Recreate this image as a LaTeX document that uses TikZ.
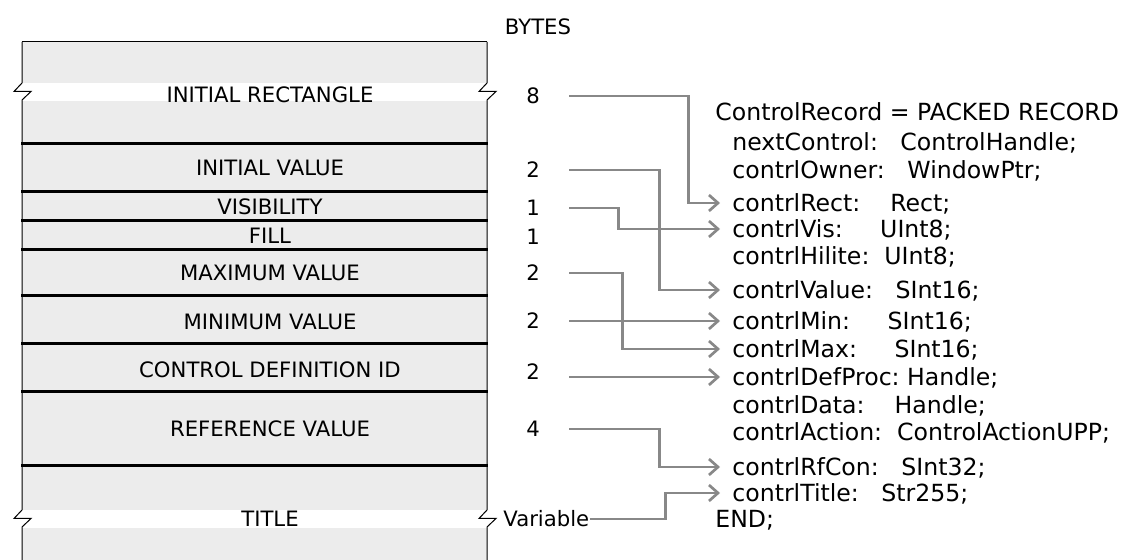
\documentclass[tikz,border=0pt]{standalone}
\usepackage{fontspec}
\setmainfont{DejaVu Sans}
\usetikzlibrary{arrows.meta}
\tikzset{>={Straight Barb[length=4.5pt,width=8pt]}}
\definecolor{linkgray}{HTML}{888888}
\definecolor{boxgray}{HTML}{ECECEC}

\begin{document}
\begin{tikzpicture}[x=0.5pt,y=-0.5pt,
  every node/.style={font=\fontsize{10.6pt}{12.5pt}\selectfont, inner sep=0pt,
    text height=7.7pt, text depth=0pt},
  bytes/.style={minimum width=36pt},
  decl/.style={anchor=west, inner xsep=6pt, font=\fontsize{11.8pt}{14pt}\selectfont,
    text height=8.6pt},
  link/.style={->, draw=linkgray, line width=1.35pt},
  sep/.style={line width=1.5pt},
  edge/.style={line width=0.5pt}]

  \newcommand\XLAB{270}
  \newcommand\XNUM{533}
  \newcommand\XDECL{720}

  \useasboundingbox (0,0) rectangle (1129,560);

  % record layout
  \fill[boxgray] (22,42) rectangle (487,560);
  \fill[white] (22,83) rectangle (487,101);
  \fill[white] (22,510) rectangle (487,528);
  \foreach \y in {144,192,221,250,296,344,392,466}
    \draw[sep] (21,\y) -- (488,\y);
  \foreach \x in {22,487}
    \draw[edge] (\x,560) -- (\x,527) -- ++(9,-8.5) -- ++(-17,0) -- ++(8,-8.5)
      -- (\x,100) -- ++(9,-8.5) -- ++(-17,0) -- ++(8,-8.5) -- (\x,42);
  \draw[edge] (22,42) -- (487,42);

  \node (initrect) at (\XLAB,95) {INITIAL RECTANGLE};
  \node (initval) at (\XLAB,168) {INITIAL VALUE};
  \node (visib) at (\XLAB,207) {VISIBILITY};
  \node (fill) at (\XLAB,236) {FILL};
  \node (maxval) at (\XLAB,273) {MAXIMUM VALUE};
  \node (minval) at (\XLAB,322) {MINIMUM VALUE};
  \node (cdefid) at (\XLAB,370) {CONTROL DEFINITION ID};
  \node (refval) at (\XLAB,429) {REFERENCE VALUE};
  \node (title) at (\XLAB,519) {TITLE};

  % byte counts
  \node (hdr) at (538,27) {BYTES};
  \node[bytes] (b8) at (\XNUM,96) {8};
  \node[bytes] (biv) at (\XNUM,170) {2};
  \node[bytes] (bvis) at (\XNUM,208) {1};
  \node[bytes] (bfill) at (\XNUM,237) {1};
  \node[bytes] (bmax) at (\XNUM,273) {2};
  \node[bytes] (bmin) at (\XNUM,321) {2};
  \node[bytes] (bdef) at (\XNUM,372) {2};
  \node[bytes] (bref) at (\XNUM,429) {4};
  \node[anchor=west] (var) at (503,519) {Variable};

  % Pascal declaration
  \node[decl] (recHead) at (703,112) {ControlRecord = PACKED RECORD};
  \node[decl] (fNext) at (\XDECL,142) {nextControl:\ \ \ ControlHandle;};
  \node[decl] (fOwner) at (\XDECL,170) {contrlOwner:\ \ \ WindowPtr;};
  \node[decl] (fRect) at (\XDECL,203) {contrlRect:\ \ \ \ Rect;};
  \node[decl] (fVis) at (\XDECL,229) {contrlVis:\ \ \ \ \ UInt8;};
  \node[decl] (fHilite) at (\XDECL,256) {contrlHilite:\ \ UInt8;};
  \node[decl] (fValue) at (\XDECL,290) {contrlValue:\ \ \ SInt16;};
  \node[decl] (fMin) at (\XDECL,321) {contrlMin:\ \ \ \ \ SInt16;};
  \node[decl] (fMax) at (\XDECL,349) {contrlMax:\ \ \ \ \ SInt16;};
  \node[decl] (fDefProc) at (\XDECL,377) {contrlDefProc:\ Handle;};
  \node[decl] (fData) at (\XDECL,405) {contrlData:\ \ \ \ Handle;};
  \node[decl] (fAction) at (\XDECL,432) {contrlAction:\ \ ControlActionUPP;};
  \node[decl] (fRfCon) at (\XDECL,467) {contrlRfCon:\ \ \ SInt32;};
  \node[decl] (fTitle) at (\XDECL,493) {contrlTitle:\ \ \ Str255;};
  \node[decl] (recEnd) at (703,519) {END;};

  \draw[link] (b8.east) -- ++(119,0) |- (fRect.west);
  \draw[link] (biv.east) -- ++(90,0) |- (fValue.west);
  \draw[link] (bvis.east) -- ++(49,0) |- (fVis.west);
  \draw[link] (bmax.east) -- ++(53,0) |- (fMax.west);
  \draw[link] (bmin.east) -- (fMin.west);
  \draw[link] (bdef.east |- fDefProc.west) -- (fDefProc.west);
  \draw[link] (bref.east) -- ++(90,0) |- (fRfCon.west);
  \draw[link] (var.east) -- ++(76,0) |- (fTitle.west);

\end{tikzpicture}
\end{document}
